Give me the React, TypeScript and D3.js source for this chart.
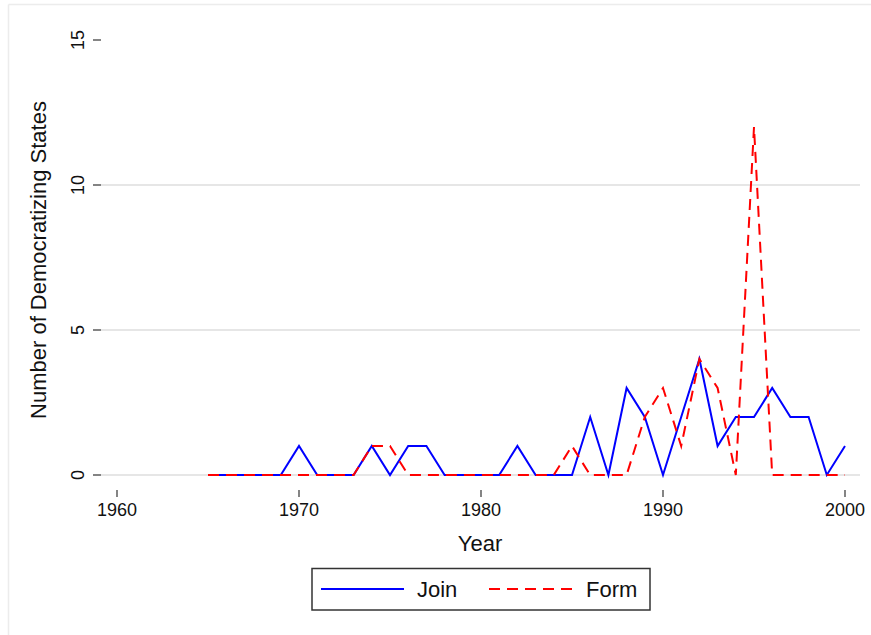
import * as d3 from "d3";

// years 1965..2000
const years = d3.range(1965, 2001);
const joinCounts = [0, 0, 0, 0, 0, 1, 0, 0, 0, 1, 0, 1, 1, 0, 0, 0, 0, 1, 0, 0, 0, 2, 0, 3, 2, 0, 2, 4, 1, 2, 2, 3, 2, 2, 0, 1];
const formCounts = [0, 0, 0, 0, 0, 0, 0, 0, 0, 1, 1, 0, 0, 0, 0, 0, 0, 0, 0, 0, 1, 0, 0, 0, 2, 3, 1, 4, 3, 0, 12, 0, 0, 0, 0, 0];
const xTicks = [1960, 1970, 1980, 1990, 2000];
const yTicks = [0, 5, 10, 15];
const yGrid = [0, 5, 10];

const W = 871;
const H = 635;
const font = "'Liberation Sans', Arial, Helvetica, sans-serif";

export default function App() {
  const x = d3.scaleLinear().domain([1960, 2000]).range([117, 845]);
  const y = d3.scaleLinear().domain([0, 15]).range([475, 40]);

  const line = d3
    .line<number>()
    .x((_, i) => x(years[i]))
    .y((d) => y(d));

  return (
    <svg
      width={W}
      height={H}
      style={{ position: "absolute", left: 0, top: 0, background: "#fff" }}
      fontFamily={font}
    >
      {/* faint outer frame, only top and left edges are in view */}
      <line x1={8.5} x2={W} y1={4.5} y2={4.5} stroke="#ececec" strokeWidth={1.5} />
      <line x1={8.5} x2={8.5} y1={4.5} y2={H} stroke="#ececec" strokeWidth={1.5} />

      {/* gridlines */}
      {yGrid.map((t) => (
        <line key={"g" + t} x1={101} x2={860} y1={y(t)} y2={y(t)} stroke="#e6e6e6" strokeWidth={2} />
      ))}

      {/* y axis ticks and labels */}
      {yTicks.map((t) => (
        <g key={"y" + t}>
          <line x1={93} x2={101} y1={y(t)} y2={y(t)} stroke="#333" strokeWidth={1.2} />
          <text
            transform={`translate(83.5,${y(t)}) rotate(-90)`}
            textAnchor="middle"
            fontSize={18}
            fill="#111"
          >
            {t}
          </text>
        </g>
      ))}
      <text
        transform={`translate(45.5,260) rotate(-90)`}
        textAnchor="middle"
        fontSize={22}
        fill="#111"
      >
        Number of Democratizing States
      </text>

      {/* x axis ticks and labels */}
      {xTicks.map((t) => (
        <g key={"x" + t}>
          <line x1={x(t)} x2={x(t)} y1={490} y2={497} stroke="#333" strokeWidth={1.2} />
          <text x={x(t)} y={515.5} textAnchor="middle" fontSize={18} fill="#111">
            {t}
          </text>
        </g>
      ))}
      <text x={480} y={551} textAnchor="middle" fontSize={22} fill="#111">
        Year
      </text>

      {/* series */}
      <path d={line(joinCounts) ?? ""} fill="none" stroke="#0000ff" strokeWidth={2} strokeLinejoin="miter" />
      <path
        d={line(formCounts) ?? ""}
        fill="none"
        stroke="#ff0000"
        strokeWidth={2}
        strokeDasharray="11,7"
        strokeLinejoin="miter"
      />

      {/* legend */}
      <rect x={312} y={568.5} width={338} height={41.5} fill="#fff" stroke="#333" strokeWidth={1.5} />
      <line x1={321} x2={404} y1={589} y2={589} stroke="#0000ff" strokeWidth={2} />
      <text x={417} y={597} fontSize={22} fill="#111">
        Join
      </text>
      <line x1={489} x2={573} y1={589} y2={589} stroke="#ff0000" strokeWidth={2} strokeDasharray="11,7" />
      <text x={586} y={597} fontSize={22} fill="#111">
        Form
      </text>
    </svg>
  );
}
